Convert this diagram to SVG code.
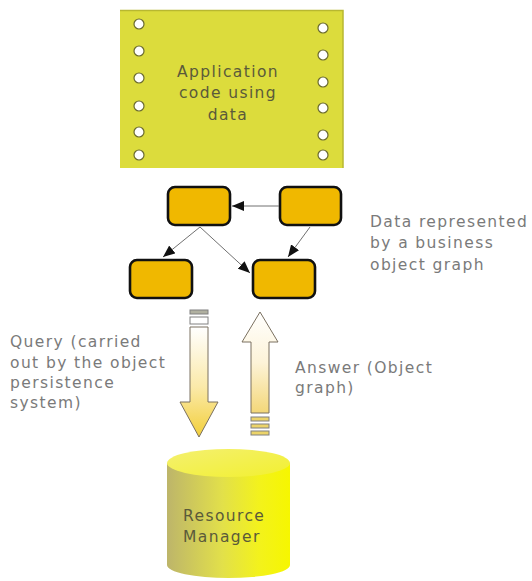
<svg xmlns="http://www.w3.org/2000/svg" width="532" height="581" viewBox="0 0 532 581">
  <defs>
    <style>
      .lbl { font-family: "DejaVu Sans", "Liberation Sans", sans-serif; font-size: 15.5px; fill: #7a7a7a; letter-spacing: 1.4px; }
      .inner { font-family: "DejaVu Sans", "Liberation Sans", sans-serif; font-size: 15.5px; fill: #5a5a3a; letter-spacing: 1.4px; }
      .hole { fill: #ffffff; stroke: #6a6a30; stroke-width: 1.2; }
      .obj { fill: #f0b800; stroke: #111111; stroke-width: 2.6; }
      .link { stroke: #707070; stroke-width: 1; fill: none; marker-end: url(#head); }
      .bar { stroke: #808080; stroke-width: 1; }
    </style>
    <marker id="head" viewBox="0 0 12 10" refX="12" refY="5" markerWidth="12" markerHeight="10" markerUnits="userSpaceOnUse" orient="auto">
      <path d="M0,0 L12,5 L0,10 Z" fill="#111111"/>
    </marker>
    <linearGradient id="downFill" x1="0" y1="0" x2="0" y2="1">
      <stop offset="0" stop-color="#ffffff"/>
      <stop offset="0.55" stop-color="#fbe9a8"/>
      <stop offset="1" stop-color="#f2cf3a"/>
    </linearGradient>
    <linearGradient id="upFill" x1="0" y1="0" x2="0" y2="1">
      <stop offset="0" stop-color="#ffffff"/>
      <stop offset="0.5" stop-color="#fdf3d8"/>
      <stop offset="1" stop-color="#f3d778"/>
    </linearGradient>
    <linearGradient id="drumBody" x1="0" y1="0" x2="1" y2="0">
      <stop offset="0" stop-color="#bdb56a"/>
      <stop offset="0.45" stop-color="#e2e04a"/>
      <stop offset="0.75" stop-color="#f3f21c"/>
      <stop offset="1" stop-color="#f6f600"/>
    </linearGradient>
    <linearGradient id="drumTop" x1="0" y1="0" x2="1" y2="1">
      <stop offset="0" stop-color="#f4f070"/>
      <stop offset="1" stop-color="#f2f030"/>
    </linearGradient>
  </defs>

  <rect width="532" height="581" fill="#ffffff"/>

  <!-- application panel with sprocket holes -->
  <g id="application">
    <rect x="120" y="10" width="223" height="158" fill="#dcdc3c"/>
    <path d="M120,10.5 H343 V168" fill="none" stroke="#b8b830" stroke-width="1.5"/>
    <circle class="hole" cx="139" cy="24" r="5"/>
    <circle class="hole" cx="139" cy="51" r="5"/>
    <circle class="hole" cx="139" cy="78" r="5"/>
    <circle class="hole" cx="139" cy="106" r="5"/>
    <circle class="hole" cx="139" cy="132" r="5"/>
    <circle class="hole" cx="139" cy="155" r="5"/>
    <circle class="hole" cx="323" cy="28" r="5"/>
    <circle class="hole" cx="323" cy="55" r="5"/>
    <circle class="hole" cx="323" cy="82" r="5"/>
    <circle class="hole" cx="323" cy="108" r="5"/>
    <circle class="hole" cx="323" cy="135" r="5"/>
    <circle class="hole" cx="323" cy="155" r="5"/>
    <text class="inner" text-anchor="middle" x="228" y="77">Application</text>
    <text class="inner" text-anchor="middle" x="228" y="98">code using</text>
    <text class="inner" text-anchor="middle" x="228" y="120">data</text>
  </g>

  <!-- business objects -->
  <g id="obj-top-left"><rect class="obj" x="168" y="187" width="62" height="38" rx="7"/></g>
  <g id="obj-top-right"><rect class="obj" x="280" y="187" width="61" height="38" rx="7"/></g>
  <g id="obj-bottom-left"><rect class="obj" x="130" y="260" width="62" height="38" rx="7"/></g>
  <g id="obj-bottom-right"><rect class="obj" x="253" y="260" width="62" height="38" rx="7"/></g>

  <!-- object references -->
  <g id="connectors">
    <line class="link" x1="279" y1="206" x2="232" y2="206"/>
    <line class="link" x1="200" y1="227" x2="163" y2="257"/>
    <line class="link" x1="200" y1="227" x2="250" y2="273"/>
    <line class="link" x1="310" y1="227" x2="288" y2="257"/>
  </g>

  <g id="graph-label">
    <text class="lbl" x="370" y="227">Data represented</text>
    <text class="lbl" x="370" y="248">by a business</text>
    <text class="lbl" x="370" y="270">object graph</text>
  </g>

  <!-- query arrow (down) -->
  <g id="query-arrow">
    <rect class="bar" x="190" y="310" width="18" height="4" fill="#b0b0a0"/>
    <rect class="bar" x="190" y="317" width="18" height="7" fill="#ffffff"/>
    <path d="M190,327 H208 V402 H218 L199,437 L180,402 H190 Z" fill="url(#downFill)" stroke="#7a7060" stroke-width="1"/>
  </g>
  <g id="query-label">
    <text class="lbl" x="10" y="347">Query (carried</text>
    <text class="lbl" x="10" y="368">out by the object</text>
    <text class="lbl" x="10" y="388">persistence</text>
    <text class="lbl" x="10" y="408">system)</text>
  </g>

  <!-- answer arrow (up) -->
  <g id="answer-arrow">
    <path d="M251,413 V342 H242 L260,312 L278,342 H269 V413 Z" fill="url(#upFill)" stroke="#7a7060" stroke-width="1"/>
    <rect class="bar" x="251" y="417" width="18" height="4" fill="#ecd46a"/>
    <rect class="bar" x="251" y="424" width="18" height="4" fill="#ecd46a"/>
    <rect class="bar" x="251" y="431" width="18" height="4" fill="#ecd46a"/>
  </g>
  <g id="answer-label">
    <text class="lbl" x="295" y="373">Answer (Object</text>
    <text class="lbl" x="295" y="393">graph)</text>
  </g>

  <!-- resource manager drum -->
  <g id="resource-manager">
    <path d="M167,463 V565 A61.5,13 0 0 0 290,565 V463 Z" fill="url(#drumBody)"/>
    <ellipse cx="228.5" cy="463" rx="61.5" ry="14" fill="url(#drumTop)"/>
    <text class="inner" x="183" y="521">Resource</text>
    <text class="inner" x="183" y="542">Manager</text>
  </g>
</svg>
